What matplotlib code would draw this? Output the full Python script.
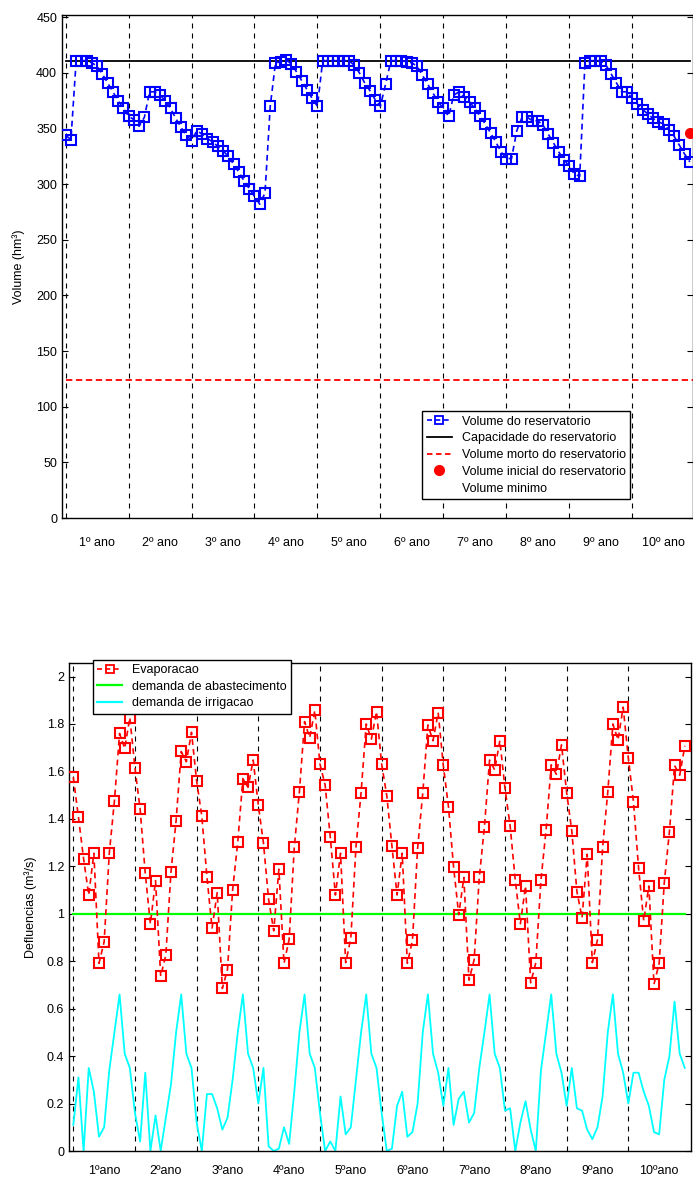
import matplotlib
matplotlib.use("Agg")
import matplotlib.pyplot as plt
from matplotlib.lines import Line2D
import numpy as np

plt.rcParams['font.family'] = ['Liberation Sans', 'DejaVu Sans']

# ---------------- data ----------------
year_labels_top = ["1º ano", "2º ano", "3º ano", "4º ano", "5º ano",
                   "6º ano", "7º ano", "8º ano", "9º ano", "10º ano"]
year_labels_bot = ["1ºano", "2ºano", "3ºano", "4ºano", "5ºano",
                   "6ºano", "7ºano", "8ºano", "9ºano", "10ºano"]

volume = [
    344, 340, 411, 411, 411, 409, 406, 399, 391, 383, 375, 368,
    361, 358, 352, 360, 383, 383, 380, 375, 368, 359, 351, 344,
    339, 348, 345, 341, 338, 334, 330, 325, 318, 311, 303, 296,
    289, 282, 292, 370, 409, 410, 412, 408, 401, 393, 385, 377,
    370, 411, 411, 411, 411, 411, 411, 407, 400, 391, 384, 376,
    370, 390, 411, 411, 411, 410, 409, 406, 398, 390, 382, 374,
    368, 361, 380, 383, 378, 374, 368, 361, 354, 346, 338, 329,
    323, 323, 348, 360, 360, 357, 357, 353, 345, 337, 329, 322,
    316, 309, 307, 409, 411, 411, 411, 407, 399, 391, 383, 383,
    377, 372, 367, 363, 359, 356, 354, 349, 343, 335, 327, 320,
]
capacidade = 411
volume_morto = 124
volume_inicial = 346

evaporacao = [
    1.575, 1.407, 1.232, 1.079, 1.255, 0.791, 0.882, 1.255, 1.476, 1.760, 1.697, 1.827,
    1.613, 1.441, 1.170, 0.957, 1.140, 0.737, 0.825, 1.175, 1.392, 1.684, 1.641, 1.765,
    1.560, 1.412, 1.156, 0.940, 1.089, 0.685, 0.765, 1.100, 1.302, 1.570, 1.533, 1.648,
    1.458, 1.298, 1.061, 0.928, 1.188, 0.791, 0.892, 1.280, 1.515, 1.810, 1.742, 1.857,
    1.631, 1.543, 1.325, 1.079, 1.255, 0.794, 0.896, 1.280, 1.511, 1.800, 1.736, 1.852,
    1.631, 1.498, 1.286, 1.079, 1.255, 0.791, 0.888, 1.276, 1.508, 1.796, 1.729, 1.848,
    1.625, 1.452, 1.197, 0.996, 1.153, 0.720, 0.806, 1.153, 1.367, 1.648, 1.606, 1.730,
    1.529, 1.371, 1.142, 0.958, 1.117, 0.709, 0.793, 1.142, 1.354, 1.628, 1.588, 1.712,
    1.511, 1.350, 1.093, 0.983, 1.251, 0.794, 0.890, 1.280, 1.512, 1.800, 1.733, 1.871,
    1.657, 1.473, 1.193, 0.970, 1.117, 0.703, 0.791, 1.131, 1.346, 1.625, 1.584, 1.708,
]
demanda_abastecimento = 1.0
irrigacao = [
    0.11, 0.31, 0.00, 0.35, 0.25, 0.06, 0.10, 0.34, 0.50, 0.66, 0.41, 0.35,
    0.16, 0.04, 0.33, 0.00, 0.15, 0.00, 0.14, 0.28, 0.50, 0.66, 0.41, 0.35,
    0.12, 0.00, 0.24, 0.24, 0.18, 0.09, 0.14, 0.30, 0.50, 0.66, 0.41, 0.35,
    0.20, 0.35, 0.02, 0.00, 0.01, 0.10, 0.03, 0.25, 0.50, 0.66, 0.41, 0.35,
    0.16, 0.00, 0.04, 0.00, 0.23, 0.07, 0.10, 0.30, 0.50, 0.66, 0.41, 0.35,
    0.16, 0.00, 0.01, 0.19, 0.25, 0.06, 0.08, 0.20, 0.50, 0.66, 0.41, 0.33,
    0.19, 0.35, 0.11, 0.22, 0.25, 0.12, 0.16, 0.35, 0.50, 0.66, 0.41, 0.35,
    0.17, 0.18, 0.00, 0.12, 0.21, 0.09, 0.00, 0.34, 0.50, 0.66, 0.41, 0.33,
    0.19, 0.35, 0.18, 0.17, 0.09, 0.05, 0.10, 0.23, 0.50, 0.66, 0.41, 0.33,
    0.20, 0.33, 0.33, 0.25, 0.19, 0.08, 0.07, 0.30, 0.40, 0.63, 0.41, 0.35,
]

months = np.arange(1, len(volume) + 1)
year_starts = months[::12]
year_mid = year_starts + 6

# ---------------- figure ----------------
W, H = 693, 1180
fig = plt.figure(figsize=(W / 100, H / 100), dpi=100)

def px_axes(l, t, r, b):
    return fig.add_axes([l / W, 1 - b / H, (r - l) / W, (b - t) / H])

FS = 9
dash_v = (0, (4.5, 4.5))

# ---------- top axes ----------
ax1 = px_axes(62, 15, 693, 518)
for xs in year_starts:
    ax1.axvline(xs, color='black', lw=0.8, linestyle=dash_v, zorder=1)
ax1.plot(months, volume, color='#0000ff', linestyle=(0, (3.5, 2.5)), lw=1.2,
         marker='s', markersize=7, markerfacecolor='none', markeredgewidth=1.5,
         markeredgecolor='#0000ff', zorder=3)
ax1.plot([months[0], months[-1]], [capacidade, capacidade], color='black', lw=1.3, zorder=2)
ax1.plot([months[0], months[-1] + 0.6], [volume_morto, volume_morto], color='red',
         lw=1.3, linestyle=(0, (3.5, 2.0)), zorder=2)
ax1.plot([months[-1]], [volume_inicial], 'o', color='red', markersize=7, clip_on=False, zorder=4)

ax1.set_xlim(0.3, 120.6)
ax1.set_ylim(0, 452)
ax1.set_yticks(np.arange(0, 451, 50))
ax1.set_xticks(year_mid)
ax1.set_xticklabels(year_labels_top, fontsize=FS)
ax1.tick_params(axis='x', length=0, pad=14)
ax1.tick_params(axis='y', direction='in', length=4, right=True, labelsize=FS, width=0.8)
ax1.set_ylabel('Volume (hm³)', fontsize=FS)
ax1.yaxis.set_label_coords(-0.058, 0.5)
for s in ax1.spines.values():
    s.set_linewidth(1.0)

handles1 = [
    Line2D([], [], color='#0000ff', linestyle=(0, (3, 2)), lw=1.2, marker='s',
           markersize=6, markerfacecolor='none', markeredgewidth=1.3),
    Line2D([], [], color='black', lw=1.3),
    Line2D([], [], color='red', lw=1.3, linestyle=(0, (3, 2))),
    Line2D([], [], color='red', marker='o', linestyle='none', markersize=7),
    Line2D([], [], color='none', lw=0),
]
labels1 = ['Volume do reservatorio', 'Capacidade do reservatorio',
           'Volume morto do reservatorio', 'Volume inicial do reservatorio',
           'Volume minimo']
leg1 = ax1.legend(handles1, labels1, loc='lower left', bbox_to_anchor=(0.571, 0.038),
                  fontsize=FS, frameon=True, fancybox=False, edgecolor='black',
                  framealpha=1, handlelength=2.0, handletextpad=0.8,
                  labelspacing=0.38, borderpad=0.35, borderaxespad=0)
leg1.get_frame().set_linewidth(1.0)

# ---------- bottom axes ----------
ax2 = px_axes(69, 663, 691, 1151)
for xs in year_starts:
    ax2.axvline(xs, color='black', lw=0.8, linestyle=dash_v, zorder=1)
ax2.plot(months, evaporacao, color='red', linestyle=(0, (3.5, 2.5)), lw=1.2,
         marker='s', markersize=7, markerfacecolor='none', markeredgewidth=1.5,
         markeredgecolor='red', zorder=3)
ax2.plot([months[0], months[-1]], [demanda_abastecimento] * 2,
         color='#00ff00', lw=1.6, zorder=2)
ax2.plot(months, irrigacao, color='#00ffff', lw=1.3, zorder=2)

ax2.set_xlim(0.16, 121.2)
ax2.set_ylim(0, 2.057)
yt = np.round(np.arange(0, 2.01, 0.2), 1)
ax2.set_yticks(yt)
ax2.set_yticklabels([('%g' % v) for v in yt], fontsize=FS)
ax2.set_xticks(year_mid)
ax2.set_xticklabels(year_labels_bot, fontsize=FS)
ax2.tick_params(axis='x', length=0, pad=10)
ax2.tick_params(axis='y', direction='in', length=4, right=True, labelsize=FS, width=0.8)
ax2.set_ylabel('Defluencias (m³/s)', fontsize=FS)
ax2.yaxis.set_label_coords(-0.052, 0.5)
for s in ax2.spines.values():
    s.set_linewidth(1.0)

h_evap = Line2D([], [], color='red', linestyle=(0, (3, 2)), lw=1.2, marker='s',
                markersize=6, markerfacecolor='none', markeredgewidth=1.3)
h_dem = Line2D([], [], color='#00ff00', lw=1.6)
h_irr = Line2D([], [], color='#00ffff', lw=1.6)
leg2 = ax2.legend([h_evap, h_dem, h_irr],
                  ['Evaporacao', 'demanda de abastecimento', 'demanda de irrigacao'],
                  loc='upper left', bbox_to_anchor=(0.038, 1.007), fontsize=FS,
                  frameon=True, fancybox=False, edgecolor='black', framealpha=1,
                  handlelength=2.0, handletextpad=0.8, labelspacing=0.38,
                  borderpad=0.35, borderaxespad=0)
leg2.get_frame().set_linewidth(1.0)
leg2.set_zorder(10)

fig.savefig('out.png', dpi=100)
